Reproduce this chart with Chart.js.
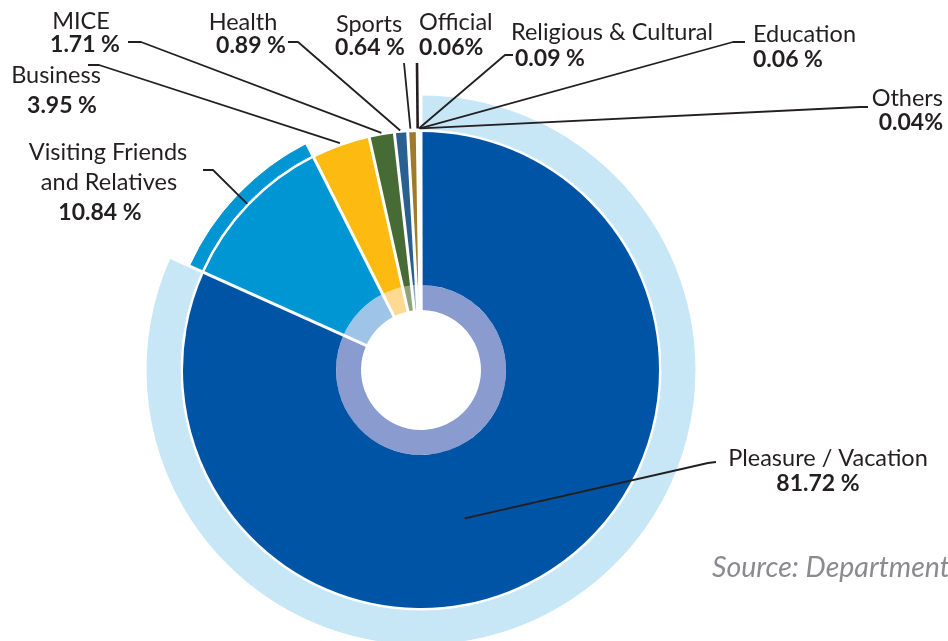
<!DOCTYPE html>
<html>
<head>
<meta charset="utf-8">
<script src="https://cdn.jsdelivr.net/npm/chart.js@4"></script>
<style>
  html, body { margin: 0; padding: 0; background: #fff; }
  canvas { display: block; }
</style>
</head>
<body>
<canvas id="purposeChart" width="948" height="641"></canvas>
<script>
const CATEGORIES = ['Pleasure / Vacation', 'Visiting Friends and Relatives', 'Business', 'MICE', 'Health',
  'Sports', 'Official', 'Religious & Cultural', 'Education', 'Others'];
const SHARES = [81.72, 10.84, 3.95, 1.71, 0.89, 0.64, 0.06, 0.09, 0.06, 0.04];
const VALUE_TEXT = ['81.72 %', '10.84 %', '3.95 %', '1.71 %', '0.89 %', '0.64 %', '0.06%', '0.09 %', '0.06 %', '0.04%'];

const MAIN_COLORS = ['#0054a5', '#0095d3', '#fdbb12', '#466b34', '#2a5f92', '#a07a2b', '#cfcfcf', '#cfcfcf', '#cfcfcf', '#cfcfcf'];
const INNER_COLORS = ['#8a9bd0', '#9ec5e8', '#fed992', '#8ea57b', '#8aa5c4', '#cdb98f', '#e6e6e6', '#e6e6e6', '#e6e6e6', '#e6e6e6'];
const OUTER_WIDE = ['#c7e7f7', 'transparent', 'transparent', 'transparent', 'transparent', 'transparent', 'transparent', 'transparent', 'transparent', 'transparent'];
const OUTER_NARROW = ['#c7e7f7', '#0095d3', 'transparent', 'transparent', 'transparent', 'transparent', 'transparent', 'transparent', 'transparent', 'transparent'];

// label placement: text lines [text, x, y, bold], alignment, leader line start points, tip (fraction of slice, radius factor)
const LABELS = [
  { lines: [['Pleasure / Vacation', 828, 458, false], [VALUE_TEXT[0], 818, 484, true]], align: 'center',
    leader: [[716, 462], [708, 463]], tip: [0.556, 0.65] },
  { lines: [['Visiting Friends', 108, 152, false], ['and Relatives', 109, 182, false], [VALUE_TEXT[1], 100, 213, true]], align: 'center',
    leader: [[203, 170], [213, 170]], tip: [0.5, 1.01] },
  { lines: [['Business', 56, 75, false], [VALUE_TEXT[2], 62, 106, true]], align: 'center',
    leader: [[88, 65], [99, 65]], tip: [0.5, 1.012] },
  { lines: [['MICE', 81, 21, false], [VALUE_TEXT[3], 85, 45, true]], align: 'center',
    leader: [[128, 42], [141, 42]], tip: [0.5, 1.01] },
  { lines: [['Health', 243, 22, false], [VALUE_TEXT[4], 251, 46, true]], align: 'center',
    leader: [[288, 42], [298, 42]], tip: [0.45, 1.01] },
  { lines: [['Sports', 369, 24, false], [VALUE_TEXT[5], 370, 48, true]], align: 'center',
    leader: [[404, 63]], tip: [0.3, 1.015] },
  { lines: [['Official', 419, 22, false], [VALUE_TEXT[6], 419, 48, true]], align: 'left',
    leader: [[417, 63]], tip: [0.5, 1.015], width: 2.6 },
  { lines: [['Religious & Cultural', 511, 32, false], [VALUE_TEXT[7], 515, 59, true]], align: 'left',
    leader: [[513, 55], [505, 55]], tip: [0.5, 1.015] },
  { lines: [['Education', 753, 34, false], [VALUE_TEXT[8], 753, 60, true]], align: 'left',
    leader: [[745, 42], [733, 42]], tip: [0.5, 1.015] },
  { lines: [['Others', 943, 98, false], [VALUE_TEXT[9], 943, 123, true]], align: 'right',
    leader: [[868, 107], [860, 107]], tip: [0.5, 1.015] },
];

const FONT = 'Lato, "Open Sans", sans-serif';
const MAIN = 3, INNER = 4;

const decorPlugin = {
  id: 'decor',
  afterDatasetsDraw(chart) {
    const ctx = chart.ctx;
    const mainArcs = chart.getDatasetMeta(MAIN).data;
    const innerArcs = chart.getDatasetMeta(INNER).data;
    const outerArcs = chart.getDatasetMeta(0).data;
    const cx = mainArcs[0].x, cy = mainArcs[0].y;
    const rIn = innerArcs[0].innerRadius - 1;
    const rOut = outerArcs[0].outerRadius + 1;
    const rMain = mainArcs[0].outerRadius;

    // white separators between slices
    ctx.save();
    ctx.strokeStyle = '#ffffff';
    ctx.lineWidth = 3;
    mainArcs.forEach(a => {
      ctx.beginPath();
      ctx.moveTo(cx + rIn * Math.cos(a.startAngle), cy + rIn * Math.sin(a.startAngle));
      ctx.lineTo(cx + rOut * Math.cos(a.startAngle), cy + rOut * Math.sin(a.startAngle));
      ctx.stroke();
    });

    // leader lines
    ctx.strokeStyle = '#231f20';
    ctx.lineJoin = 'round';
    LABELS.forEach((lb, i) => {
      const a = mainArcs[i];
      const ang = a.startAngle + (a.endAngle - a.startAngle) * lb.tip[0];
      const r = rMain * lb.tip[1];
      ctx.lineWidth = lb.width || 1.8;
      ctx.beginPath();
      lb.leader.forEach((p, k) => k === 0 ? ctx.moveTo(p[0], p[1]) : ctx.lineTo(p[0], p[1]));
      ctx.lineTo(cx + r * Math.cos(ang), cy + r * Math.sin(ang));
      ctx.stroke();
    });

    // label text
    ctx.fillStyle = '#231f20';
    ctx.textBaseline = 'middle';
    LABELS.forEach(lb => {
      ctx.textAlign = lb.align;
      lb.lines.forEach(([t, x, y, bold]) => {
        ctx.font = bold ? 'bold 23px ' + FONT : '23.5px ' + FONT;
        ctx.fillText(t, x, y);
      });
    });

    ctx.textAlign = 'left';
    ctx.fillStyle = '#8b8b8f';
    ctx.font = 'italic 28.5px ' + FONT;
    ctx.fillText('Source: Department', 712, 568);
    ctx.restore();
  }
};

new Chart(document.getElementById('purposeChart'), {
  type: 'doughnut',
  data: {
    labels: CATEGORIES,
    datasets: [
      { data: SHARES, backgroundColor: OUTER_WIDE, borderColor: OUTER_WIDE, borderWidth: 1, weight: 21 },
      { data: SHARES, backgroundColor: OUTER_NARROW, borderColor: OUTER_NARROW, borderWidth: 1, weight: 12 },
      { data: SHARES, backgroundColor: 'transparent', borderWidth: 0, weight: 3 },
      { data: SHARES, backgroundColor: MAIN_COLORS, borderWidth: 0, weight: 153 },
      { data: SHARES, backgroundColor: INNER_COLORS, borderWidth: 0, weight: 25 },
    ],
  },
  options: {
    responsive: false,
    animation: false,
    events: [],
    radius: 274,
    cutout: (60 / 274 * 100) + '%',
    layout: { padding: { left: 0, right: 106, top: 99, bottom: 0 } },
    plugins: { legend: { display: false }, tooltip: { enabled: false } },
  },
  plugins: [decorPlugin],
});
</script>
</body>
</html>
